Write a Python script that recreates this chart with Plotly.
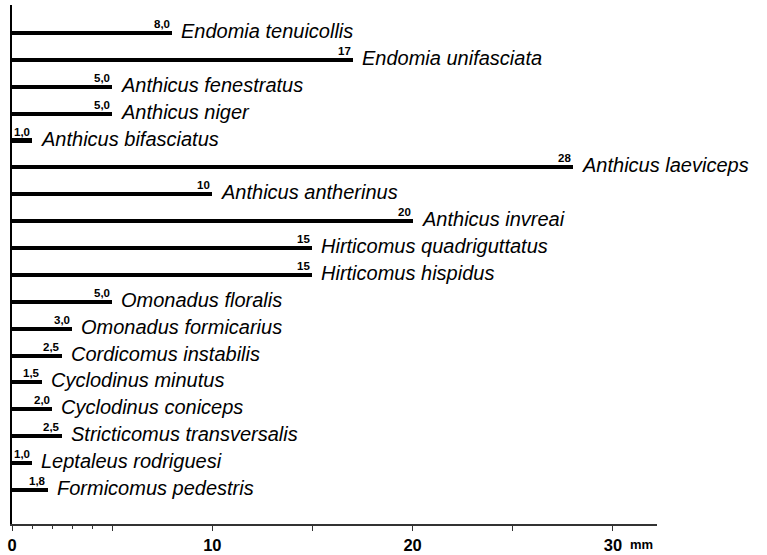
import plotly.graph_objects as go

species = [
    "Endomia tenuicollis", "Endomia unifasciata", "Anthicus fenestratus", "Anthicus niger",
    "Anthicus bifasciatus", "Anthicus laeviceps", "Anthicus antherinus", "Anthicus invreai",
    "Hirticomus quadriguttatus", "Hirticomus hispidus", "Omonadus floralis", "Omonadus formicarius",
    "Cordicomus instabilis", "Cyclodinus minutus", "Cyclodinus coniceps", "Stricticomus transversalis",
    "Leptaleus rodriguesi", "Formicomus pedestris",
]
values = [8.0, 17, 5.0, 5.0, 1.0, 28, 10, 20, 15, 15, 5.0, 3.0, 2.5, 1.5, 2.0, 2.5, 1.0, 1.8]
value_labels = ["8,0", "17", "5,0", "5,0", "1,0", "28", "10", "20", "15", "15", "5,0", "3,0",
                "2,5", "1,5", "2,0", "2,5", "1,0", "1,8"]
tick_vals = [0, 5, 10, 15, 20, 25, 30]
tick_text = ["0", "", "10", "", "20", "", "30"]
minor_ticks = [1, 2, 3, 4]

n = len(species)
ypos = [n - 1 - i for i in range(n)]

fig = go.Figure()
fig.add_trace(go.Bar(
    x=values, y=ypos, orientation="h", width=0.15,
    marker=dict(color="black", line=dict(width=0)), hoverinfo="skip",
))

FONT = "Liberation Sans, Arial, Helvetica, sans-serif"
for v, y, s, lab in zip(values, ypos, species, value_labels):
    fig.add_annotation(x=v, y=y, xref="x", yref="y", text=f"<b>{lab}</b>", showarrow=False,
                       xanchor="right", yanchor="bottom", xshift=0, yshift=1,
                       font=dict(family=FONT, size=11.5, color="black"))
    fig.add_annotation(x=v, y=y, xref="x", yref="y", text=f"<i>{s}</i>", showarrow=False,
                       xanchor="left", yanchor="middle", xshift=7, yshift=2,
                       font=dict(family=FONT, size=20, color="black"))

fig.add_annotation(x=30, y=0, xref="x", yref="paper", text="<b>mm</b>", showarrow=False,
                   xanchor="left", yanchor="top", xshift=15, yshift=-11,
                   font=dict(family=FONT, size=13, color="black"))

fig.update_layout(
    width=767, height=555,
    margin=dict(l=12, r=110, t=5, b=31, autoexpand=False),
    plot_bgcolor="white", paper_bgcolor="white",
    showlegend=False, bargap=0,
    xaxis=dict(
        range=[0, 32.2], showgrid=False, zeroline=False, automargin=False,
        showline=True, linecolor="#333", linewidth=1.5,
        tickmode="array", tickvals=tick_vals, ticktext=tick_text,
        ticks="outside", ticklen=5, tickwidth=1.2, tickcolor="#333",
        tickfont=dict(family=FONT, size=16.5, color="black", weight="bold"),
        minor=dict(tickmode="array", tickvals=minor_ticks, ticks="outside", ticklen=3,
                   tickwidth=1, tickcolor="#333"),
    ),
    yaxis=dict(
        range=[-1.265, 18.04], showgrid=False, zeroline=False, automargin=False,
        showline=True, linecolor="black", linewidth=2, showticklabels=False, ticks="",
    ),
)

fig.write_html("out.html", config={"displayModeBar": False},
               post_script="document.body.style.margin='0';document.body.style.padding='0';")
